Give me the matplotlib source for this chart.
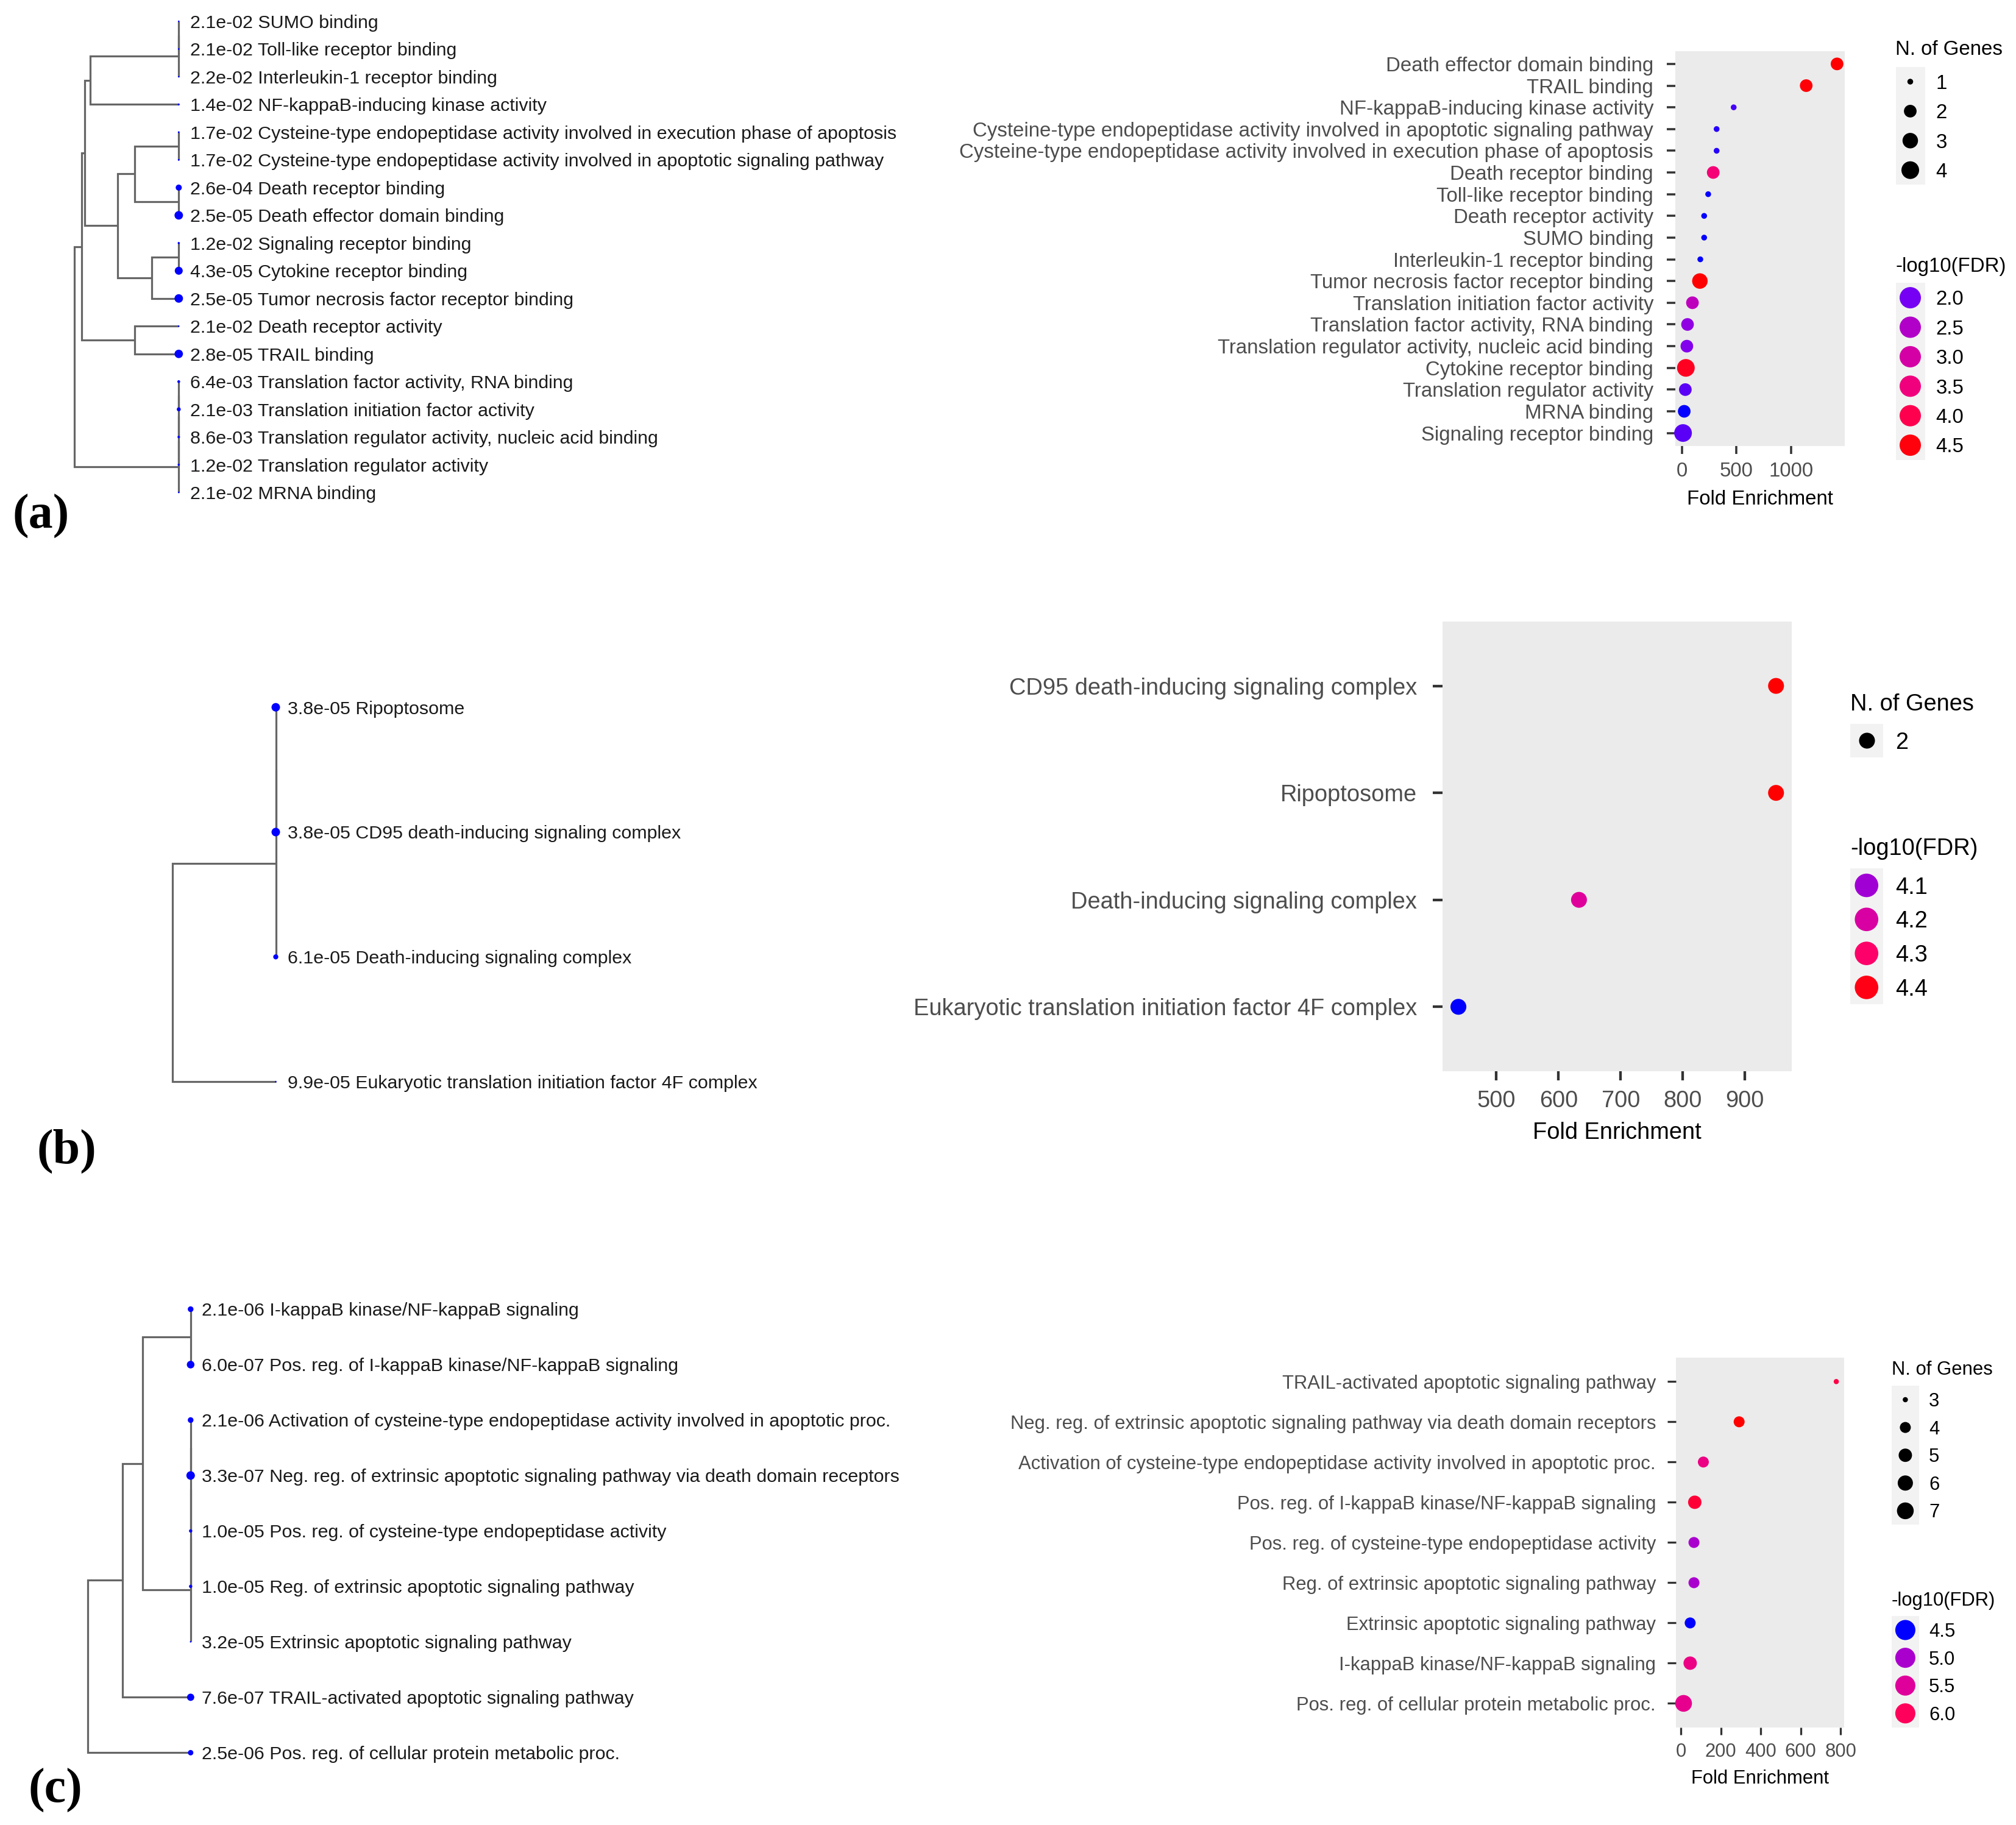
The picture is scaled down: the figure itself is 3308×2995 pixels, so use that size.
import numpy as np
import matplotlib
matplotlib.use("Agg")
import matplotlib.pyplot as plt
from matplotlib.colors import LinearSegmentedColormap, Normalize
from matplotlib.patches import Rectangle

plt.rcParams['font.family'] = ['Liberation Sans', 'DejaVu Sans']

W, H, DPI = 3308, 2995, 100
PT = 72.0 / DPI  # points per pixel

# ======================= DATA =======================
# ---- panel (a): molecular function (tree order) ----
a_terms = ["SUMO binding", "Toll-like receptor binding", "Interleukin-1 receptor binding",
           "NF-kappaB-inducing kinase activity",
           "Cysteine-type endopeptidase activity involved in execution phase of apoptosis",
           "Cysteine-type endopeptidase activity involved in apoptotic signaling pathway",
           "Death receptor binding", "Death effector domain binding",
           "Signaling receptor binding", "Cytokine receptor binding",
           "Tumor necrosis factor receptor binding", "Death receptor activity", "TRAIL binding",
           "Translation factor activity, RNA binding", "Translation initiation factor activity",
           "Translation regulator activity, nucleic acid binding", "Translation regulator activity",
           "MRNA binding"]
a_fdr = [2.1e-02, 2.1e-02, 2.2e-02, 1.4e-02, 1.7e-02, 1.7e-02, 2.6e-04, 2.5e-05, 1.2e-02,
         4.3e-05, 2.5e-05, 2.1e-02, 2.8e-05, 6.4e-03, 2.1e-03, 8.6e-03, 1.2e-02, 2.1e-02]
a_fold = [204, 241, 169, 474, 318, 318, 287, 1419, 11, 37, 165, 204, 1137, 52, 97, 46, 32, 22]
a_genes = [1, 1, 1, 1, 1, 1, 2, 2, 4, 4, 3, 1, 2, 2, 2, 2, 2, 2]
a_dot_order = ["Death effector domain binding", "TRAIL binding",
               "NF-kappaB-inducing kinase activity",
               "Cysteine-type endopeptidase activity involved in apoptotic signaling pathway",
               "Cysteine-type endopeptidase activity involved in execution phase of apoptosis",
               "Death receptor binding", "Toll-like receptor binding", "Death receptor activity",
               "SUMO binding", "Interleukin-1 receptor binding",
               "Tumor necrosis factor receptor binding", "Translation initiation factor activity",
               "Translation factor activity, RNA binding",
               "Translation regulator activity, nucleic acid binding", "Cytokine receptor binding",
               "Translation regulator activity", "MRNA binding", "Signaling receptor binding"]
# dendrogram: (height, left, right); leaves are indices into a_terms
a_tree = (1.0,
          (0.932,
           (0.902,
            (0.851, (0, (0, 0, 1), 2), 3),
            (0.585, (0.423, (0, 4, 5), (0, 6, 7)), (0.257, (0, 8, 9), 10))),
           (0.425, 11, 12)),
          (0, (0, (0, (0, 13, 14), 15), 16), 17))
a_xticks = [0, 500, 1000]
a_size_breaks = [1, 2, 3, 4]
a_color_breaks = [2.0, 2.5, 3.0, 3.5, 4.0, 4.5]

# ---- panel (b): cellular component ----
b_terms = ["Ripoptosome", "CD95 death-inducing signaling complex",
           "Death-inducing signaling complex",
           "Eukaryotic translation initiation factor 4F complex"]
b_fdr = [3.8e-05, 3.8e-05, 6.1e-05, 9.9e-05]
b_fold = [950, 950, 633, 439]
b_genes = [2, 2, 2, 2]
b_dot_order = ["CD95 death-inducing signaling complex", "Ripoptosome",
               "Death-inducing signaling complex",
               "Eukaryotic translation initiation factor 4F complex"]
b_tree = (1.0, (0, (0, 0, 1), 2), 3)
b_xticks = [500, 600, 700, 800, 900]
b_size_breaks = [2]
b_color_breaks = [4.1, 4.2, 4.3, 4.4]

# ---- panel (c): biological process ----
c_terms = ["I-kappaB kinase/NF-kappaB signaling",
           "Pos. reg. of I-kappaB kinase/NF-kappaB signaling",
           "Activation of cysteine-type endopeptidase activity involved in apoptotic proc.",
           "Neg. reg. of extrinsic apoptotic signaling pathway via death domain receptors",
           "Pos. reg. of cysteine-type endopeptidase activity",
           "Reg. of extrinsic apoptotic signaling pathway",
           "Extrinsic apoptotic signaling pathway",
           "TRAIL-activated apoptotic signaling pathway",
           "Pos. reg. of cellular protein metabolic proc."]
c_fdr = [2.1e-06, 6.0e-07, 2.1e-06, 3.3e-07, 1.0e-05, 1.0e-05, 3.2e-05, 7.6e-07, 2.5e-06]
c_fold = [47, 70, 113, 292, 66, 66, 47, 778, 14]
c_genes = [5, 5, 4, 4, 4, 4, 4, 3, 7]
c_dot_order = ["TRAIL-activated apoptotic signaling pathway",
               "Neg. reg. of extrinsic apoptotic signaling pathway via death domain receptors",
               "Activation of cysteine-type endopeptidase activity involved in apoptotic proc.",
               "Pos. reg. of I-kappaB kinase/NF-kappaB signaling",
               "Pos. reg. of cysteine-type endopeptidase activity",
               "Reg. of extrinsic apoptotic signaling pathway",
               "Extrinsic apoptotic signaling pathway",
               "I-kappaB kinase/NF-kappaB signaling",
               "Pos. reg. of cellular protein metabolic proc."]
c_tree = (1.0, (0.661, (0.463, (0, 0, 1), (0, (0, (0, (0, 2, 3), 4), 5), 6)), 7), 8)
c_xticks = [0, 200, 400, 600, 800]
c_size_breaks = [3, 4, 5, 6, 7]
c_color_breaks = [4.5, 5.0, 5.5, 6.0]

# ======================= COLOUR SCALE (blue -> red) =======================
cmap = LinearSegmentedColormap.from_list(
    'bluered',
    [(0.0, '#0000FF'), (0.12, '#7D00F2'), (0.25, '#A900CF'), (0.5, '#DE009C'),
     (0.72, '#FF0066'), (0.87, '#FF0036'), (1.0, '#FF0000')])

# ======================= FIGURE =======================
fig = plt.figure(figsize=(W / DPI, H / DPI), dpi=DPI)
fig.patch.set_facecolor('white')
ov = fig.add_axes([0, 0, 1, 1], zorder=5)
ov.set_xlim(0, W)
ov.set_ylim(H, 0)
ov.axis('off')
ov.patch.set_alpha(0)


def add_ax_px(l, t, r, b, **kw):
    return fig.add_axes([l / W, 1 - b / H, (r - l) / W, (b - t) / H], **kw)


TREE_FS = 30.4  # px
LINE_C = '#666666'


def tree_panel(cfg, terms, fdr, tree):
    n = len(terms)
    rl, lf = cfg['root_px'], cfg['leaf_px']
    y0, sp = cfg['row0'], cfg['row_sp']
    ax = add_ax_px(rl, y0 - sp / 2, lf, y0 + (n - 1) * sp + sp / 2)
    ax.set_xlim(1, 0)
    ax.set_ylim(n - 0.5, -0.5)
    ax.axis('off')

    def draw(node):
        if isinstance(node, int):
            return float(node), 0.0
        h, left, right = node
        yl, hl = draw(left)
        yr, hr = draw(right)
        ax.plot([hl, h, h, hr], [yl, yl, yr, yr], color=LINE_C, lw=3.2 * PT,
                solid_capstyle='butt', solid_joinstyle='miter', clip_on=False, zorder=2)
        return (yl + yr) / 2, h

    draw(tree)
    v = -np.log10(np.array(fdr))
    t = (v - v.min()) / (v.max() - v.min())
    d = 2.5 + 11.5 * t
    ax.scatter(np.zeros(n), np.arange(n), s=(d * PT) ** 2, color='#0000FF',
               linewidths=0, zorder=3, clip_on=False)
    for i, (term, f) in enumerate(zip(terms, fdr)):
        ax.annotate(f"{f:.1e} {term}", (0, i), xytext=(cfg['dx'] * PT, -0.358 * TREE_FS * PT),
                    textcoords='offset points', ha='left', va='baseline',
                    fontsize=TREE_FS * PT, color='#1a1a1a', annotation_clip=False)


def dot_panel(cfg, terms, fold, genes, fdr, order, xticks, size_breaks, color_breaks):
    idx = [terms.index(o) for o in order]
    fe = np.array(fold, float)[idx]
    g = np.array(genes, float)[idx]
    val = -np.log10(np.array(fdr, float))[idx]
    n = len(order)
    vmin, vmax = val.min(), val.max()
    norm = Normalize(vmin, vmax)
    gmin, gmax = g.min(), g.max()
    fs = cfg['fs']

    def diam(x):
        x = np.asarray(x, float)
        tt = (x - gmin) / (gmax - gmin) if gmax > gmin else np.full_like(x, 0.5)
        return cfg['sa'] + cfg['sb'] * np.sqrt(tt)

    l, t, r, b = cfg['box']
    ax = add_ax_px(l, t, r, b)
    ax.set_facecolor('#EBEBEB')
    for s in ax.spines.values():
        s.set_visible(False)
    ax.scatter(fe, np.arange(n), s=(diam(g) * PT) ** 2, c=cmap(norm(val)),
               linewidths=0, zorder=3, clip_on=False)
    lo, hi = fe.min(), fe.max()
    rng = hi - lo
    ax.set_xlim(lo - 0.05 * rng, hi + 0.05 * rng)
    ax.set_ylim(n - 1 + 0.6, -0.6)
    ax.set_yticks(np.arange(n))
    ax.set_yticklabels(order)
    ax.set_xticks(xticks)
    ax.set_xticklabels([str(x) for x in xticks])
    ax.tick_params(axis='y', length=cfg['ytl'] * PT, width=cfg['tw'] * PT, pad=cfg['ypad'] * PT,
                   color='#333333', labelcolor='#4D4D4D', labelsize=fs * PT)
    ax.tick_params(axis='x', length=cfg['xtl'] * PT, width=cfg['tw'] * PT, pad=cfg['xpad'] * PT,
                   color='#333333', labelcolor='#4D4D4D', labelsize=fs * PT)
    ov.text((l + r) / 2, cfg['xlab_base'], 'Fold Enrichment', ha='center', va='baseline',
            fontsize=fs * PT, color='black')

    # legends
    lx, kw = cfg['leg_x'], cfg['key_w']
    kx = lx + kw / 2
    ov.text(lx, cfg['size_title'] + 0.358 * fs, 'N. of Genes', ha='left', va='baseline',
            fontsize=fs * PT, color='black')
    ks = cfg['key_sp']
    ys = cfg['size_key0'] + ks * np.arange(len(size_breaks))
    ov.add_patch(Rectangle((lx, ys[0] - ks / 2), kw, ks * len(size_breaks),
                           facecolor='#F2F2F2', edgecolor='none', zorder=1))
    ov.scatter(np.full(len(ys), kx), ys, s=(diam(size_breaks) * PT) ** 2, color='black',
               linewidths=0, zorder=3)
    for yy, sb in zip(ys, size_breaks):
        ov.text(cfg['lab_x'], yy + 0.358 * fs, str(sb), ha='left', va='baseline',
                fontsize=fs * PT, color='black')
    ov.text(lx, cfg['col_title'] + 0.358 * fs, '-log10(FDR)', ha='left', va='baseline',
            fontsize=fs * PT, color='black')
    yc = cfg['col_key0'] + ks * np.arange(len(color_breaks))
    ov.add_patch(Rectangle((lx, yc[0] - ks / 2), kw, ks * len(color_breaks),
                           facecolor='#F2F2F2', edgecolor='none', zorder=1))
    ov.scatter(np.full(len(yc), kx), yc, s=(cfg['col_d'] * PT) ** 2,
               c=cmap(norm(np.array(color_breaks))), linewidths=0, zorder=3)
    for yy, cb in zip(yc, color_breaks):
        ov.text(cfg['lab_x'], yy + 0.358 * fs, f"{cb:.1f}", ha='left', va='baseline',
                fontsize=fs * PT, color='black')


# ---------------- layout (pixel positions) ----------------
tree_a_cfg = dict(root_px=122.3, leaf_px=293.3, row0=35.0, row_sp=45.48, dx=19)
tree_b_cfg = dict(root_px=283.0, leaf_px=452.5, row0=1160.7, row_sp=204.8, dx=19)
tree_c_cfg = dict(root_px=143.5, leaf_px=312.8, row0=2148.5, row_sp=90.98, dx=18.5)

dot_a_cfg = dict(box=(2749, 83.5, 3027, 732), fs=33, sa=9.5, sb=19.5, ytl=14, xtl=13, tw=3.5,
                 ypad=22, xpad=13, xlab_base=828.5, leg_x=3110.5, key_w=48, key_sp=48.4,
                 size_title=78, size_key0=134, col_title=434.5, col_key0=488.6, col_d=35,
                 lab_x=3176.6)
dot_b_cfg = dict(box=(2367, 1020.3, 2940.3, 1757.6), fs=38, sa=10.5, sb=22, ytl=16, xtl=15,
                 tw=4.3, ypad=26, xpad=16, xlab_base=1868.6, leg_x=3036, key_w=53.5,
                 key_sp=55.8, size_title=1152, size_key0=1215.4, col_title=1389,
                 col_key0=1453, col_d=38.6, lab_x=3110)
dot_c_cfg = dict(box=(2750, 2227.7, 3025.6, 2835), fs=31, sa=8.5, sb=19, ytl=14, xtl=12,
                 tw=3.3, ypad=19, xpad=13, xlab_base=2927, leg_x=3103.6, key_w=45.6,
                 key_sp=45.6, size_title=2244.7, size_key0=2297, col_title=2624,
                 col_key0=2675, col_d=33, lab_x=3165)

tree_panel(tree_a_cfg, a_terms, a_fdr, a_tree)
tree_panel(tree_b_cfg, b_terms, b_fdr, b_tree)
tree_panel(tree_c_cfg, c_terms, c_fdr, c_tree)

dot_panel(dot_a_cfg, a_terms, a_fold, a_genes, a_fdr, a_dot_order, a_xticks, a_size_breaks,
          a_color_breaks)
dot_panel(dot_b_cfg, b_terms, b_fold, b_genes, b_fdr, b_dot_order, b_xticks, b_size_breaks,
          b_color_breaks)
dot_panel(dot_c_cfg, c_terms, c_fold, c_genes, c_fdr, c_dot_order, c_xticks, c_size_breaks,
          c_color_breaks)

# panel letters
for lab, x, y in [('(a)', 20, 867), ('(b)', 60, 1909), ('(c)', 46, 2958)]:
    ov.text(x, y, lab, ha='left', va='baseline', fontsize=80 * PT,
            family=['Liberation Serif', 'DejaVu Serif'], weight='bold', color='black')

fig.savefig('out.png', dpi=DPI, facecolor='white')
